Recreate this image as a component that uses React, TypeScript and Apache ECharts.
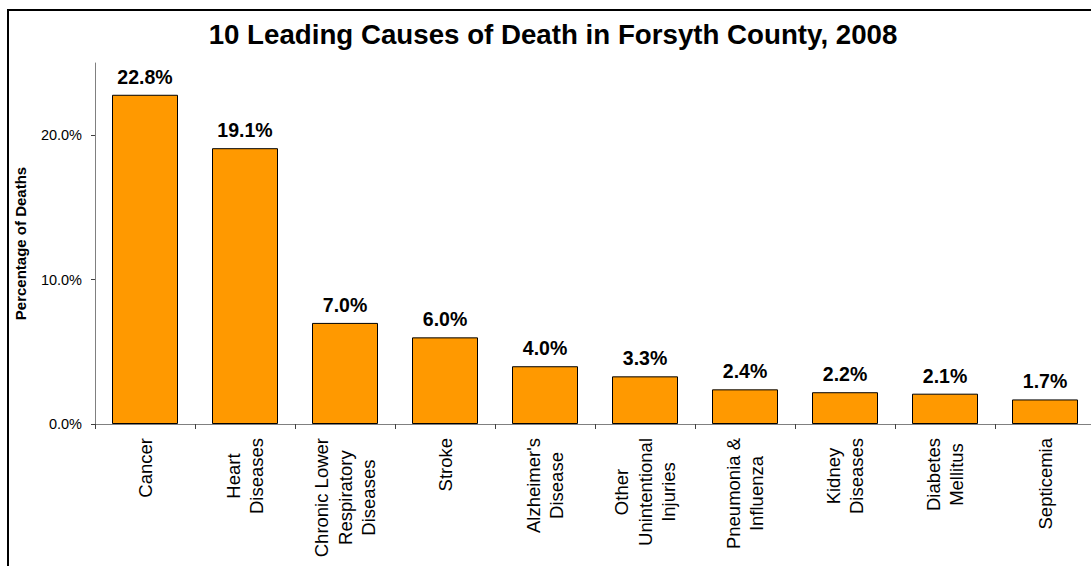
import React, { useEffect, useRef } from "react";
import * as echarts from "echarts";

const categories: string[] = [
  "Cancer",
  "Heart\nDiseases",
  "Chronic Lower\nRespiratory\nDiseases",
  "Stroke",
  "Alzheimer's\nDisease",
  "Other\nUnintentional\nInjuries",
  "Pneumonia &\nInfluenza",
  "Kidney\nDiseases",
  "Diabetes\nMellitus",
  "Septicemia",
];

const percentOfDeaths: number[] = [22.8, 19.1, 7.0, 6.0, 4.0, 3.3, 2.4, 2.2, 2.1, 1.7];

const yTickValues: number[] = [0, 10, 20];

const FONT = "'Liberation Sans', Arial, sans-serif";

export default function App() {
  const ref = useRef<HTMLDivElement>(null);

  useEffect(() => {
    if (!ref.current) return;
    const chart = echarts.init(ref.current, undefined, { renderer: "svg" });
    chart.setOption({
      animation: false,
      backgroundColor: "#ffffff",
      textStyle: { fontFamily: FONT },
      title: {
        text: "10 Leading Causes of Death in Forsyth County, 2008",
        left: 548,
        textAlign: "center",
        top: 15,
        textStyle: { fontFamily: FONT, fontSize: 27.7, fontWeight: "bold", color: "#000" },
      },
      graphic: [
        {
          type: "rect",
          shape: { x: 8, y: 10, width: 1200, height: 1000 },
          style: { fill: "none", stroke: "#000", lineWidth: 2 },
          silent: true,
        },
      ],
      grid: { left: 95, right: 5, top: 63, bottom: 142, containLabel: false },
      xAxis: {
        type: "category",
        data: categories,
        boundaryGap: true,
        axisLine: { show: true, lineStyle: { color: "#808080", width: 1 } },
        axisTick: { show: true, alignWithLabel: false, length: 5, lineStyle: { color: "#404040" } },
        axisLabel: {
          interval: 0,
          rotate: 90,
          margin: 14,
          color: "#000",
          formatter: (v: string) => v.split("\n").map((l) => `{c|${l}}`).join("\n"),
          rich: {
            c: { fontFamily: FONT, fontSize: 18.5, lineHeight: 23.5, align: "center", color: "#000" },
          },
        },
      },
      yAxis: {
        type: "value",
        min: 0,
        max: 25,
        interval: 10,
        name: "Percentage of Deaths",
        nameLocation: "middle",
        nameGap: 67,
        nameTextStyle: { fontFamily: FONT, fontSize: 15, fontWeight: "bold", color: "#000" },
        splitLine: { show: false },
        axisLine: { show: true, lineStyle: { color: "#808080", width: 1 } },
        axisTick: { show: true, length: 4, customValues: yTickValues, lineStyle: { color: "#404040" } },
        axisLabel: {
          customValues: yTickValues,
          margin: 13,
          color: "#000",
          fontFamily: FONT,
          fontSize: 14.5,
          formatter: (v: number) => v.toFixed(1) + "%",
        },
      },
      series: [
        {
          type: "bar",
          data: percentOfDeaths,
          barWidth: 66,
          itemStyle: { color: "#FF9900", borderColor: "#000", borderWidth: 1 },
          label: {
            show: true,
            position: "top",
            distance: 8,
            fontFamily: FONT,
            fontSize: 19.5,
            fontWeight: "bold",
            color: "#000",
            formatter: (p: any) => Number(p.value).toFixed(1) + "%",
          },
        },
      ],
    });
    return () => chart.dispose();
  }, []);

  return (
    <div style={{ position: "absolute", left: 0, top: 0, width: 1091, height: 566, overflow: "hidden", background: "#fff" }}>
      <div ref={ref} style={{ width: 1100, height: 566 }} />
    </div>
  );
}
